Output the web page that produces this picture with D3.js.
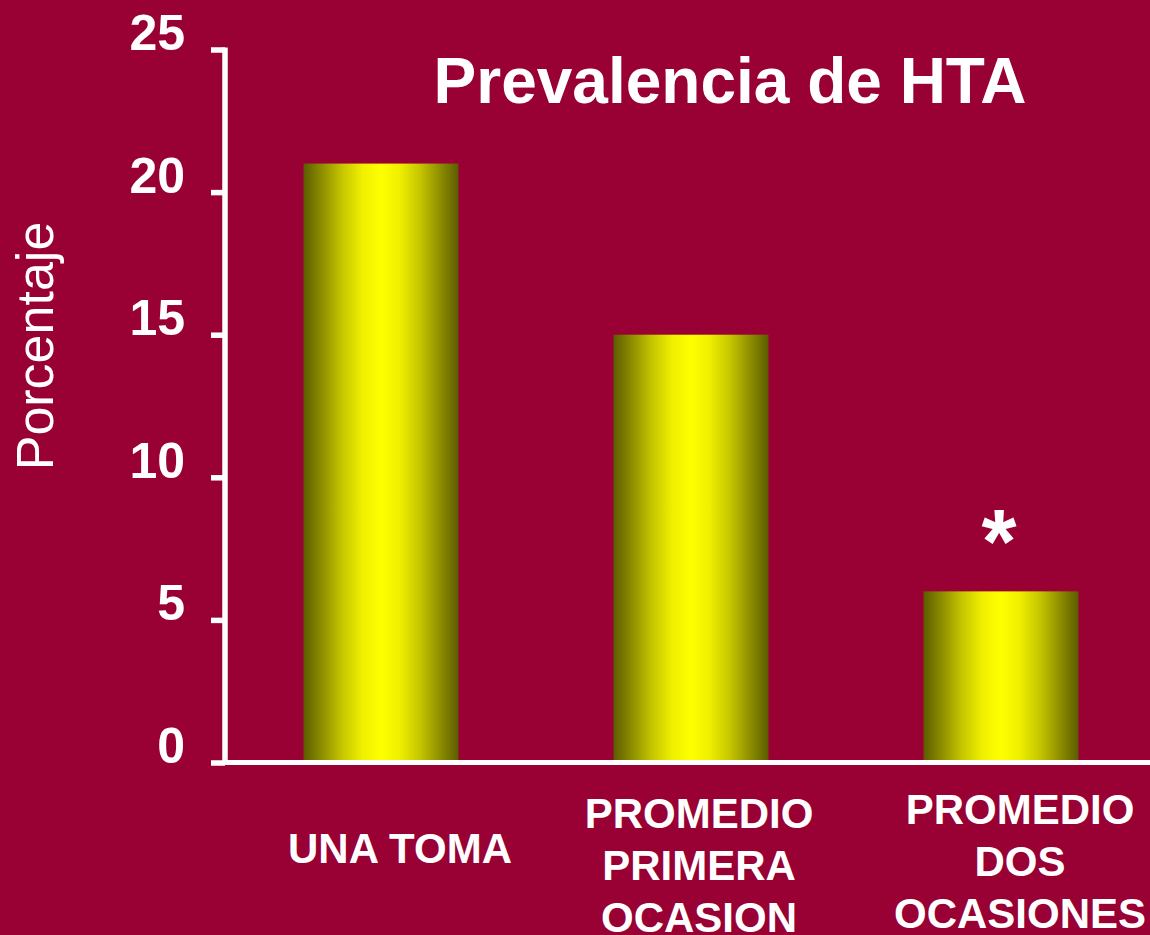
<!DOCTYPE html>
<html><head><meta charset="utf-8">
<script src="https://cdn.jsdelivr.net/npm/d3@7"></script>
<style>html,body{margin:0;padding:0;background:#990033;}svg{display:block;}</style>
</head><body>
<script>
const categories = ["UNA TOMA", "PROMEDIO PRIMERA OCASION", "PROMEDIO DOS OCASIONES"];
const categoryLines = [["UNA TOMA"], ["PROMEDIO", "PRIMERA", "OCASION"], ["PROMEDIO", "DOS", "OCASIONES"]];
const values = [21, 15, 6];
const marks = ["", "", "*"];
const yTicks = [0, 5, 10, 15, 20, 25];
const title = "Prevalencia de HTA";
const yTitle = "Porcentaje";

const W = 1150, H = 935;
const FONT = "Liberation Sans, Arial, sans-serif";
const svg = d3.select("body").append("svg").attr("width", W).attr("height", H);
svg.append("rect").attr("width", W).attr("height", H).attr("fill", "#990033");

const defs = svg.append("defs");
const grad = defs.append("linearGradient").attr("id", "barGrad")
  .attr("x1", "0%").attr("x2", "100%").attr("y1", "0%").attr("y2", "0%");
[[0, "#5c5c00"], [0.12, "#8e8e00"], [0.25, "#c6c600"], [0.38, "#efef00"], [0.5, "#ffff00"],
 [0.62, "#efef00"], [0.75, "#c6c600"], [0.88, "#8e8e00"], [1, "#5c5c00"]]
  .forEach(([o, c]) => grad.append("stop").attr("offset", o).attr("stop-color", c));

const y = d3.scaleLinear().domain([0, 25]).range([762.5, 49.5]);
const x = d3.scaleBand().domain(categories).range([226, 1156]).paddingInner(0.5).paddingOuter(0.25);

// bars
svg.selectAll("rect.bar").data(categories).join("rect")
  .attr("class", "bar")
  .attr("x", d => x(d))
  .attr("width", x.bandwidth())
  .attr("y", (d, i) => y(values[i]))
  .attr("height", (d, i) => y(0) - y(values[i]))
  .attr("fill", "url(#barGrad)");

// y axis
const yAxis = d3.axisLeft(y).tickValues(yTicks).tickSize(14).tickPadding(0).tickFormat(d3.format("d"));
const gy = svg.append("g").attr("transform", "translate(225,0)").call(yAxis);
gy.select(".domain").attr("stroke", "#fff").attr("stroke-width", 5.5).attr("fill", "none")
  .attr("d", `M0,${y(25) - 2}V${y(0) + 2.5}`);
gy.selectAll(".tick line").attr("stroke", "#fff").attr("stroke-width", 5.5);
gy.selectAll(".tick text")
  .attr("fill", "#fff")
  .attr("font-family", FONT)
  .attr("font-weight", "bold")
  .attr("font-size", 50)
  .attr("x", -40)
  .attr("dy", "0")
  .attr("y", 0);

// x axis line
svg.append("line").attr("x1", 223).attr("x2", W).attr("y1", y(0)).attr("y2", y(0))
  .attr("stroke", "#fff").attr("stroke-width", 5);

// category labels
const labelDx = [19, 8, 19];
const lineH = 52;
categories.forEach((c, i) => {
  const lines = categoryLines[i];
  const cx = x(c) + x.bandwidth() / 2 + labelDx[i];
  const firstY = lines.length === 1 ? 863 : (i === 1 ? 828 : 824);
  const t = svg.append("text")
    .attr("text-anchor", "middle")
    .attr("fill", "#fff")
    .attr("font-family", FONT)
    .attr("font-weight", "bold")
    .attr("font-size", 42);
  lines.forEach((l, j) => {
    t.append("tspan").attr("x", cx).attr("y", firstY + j * lineH).text(l);
  });
});

// significance marks
svg.selectAll("text.mark").data(categories).join("text")
  .attr("class", "mark")
  .attr("x", d => x(d) + x.bandwidth() / 2 - 2)
  .attr("y", (d, i) => y(values[i]) - 18)
  .attr("text-anchor", "middle")
  .attr("fill", "#fff")
  .attr("font-family", FONT)
  .attr("font-weight", "bold")
  .attr("font-size", 90)
  .text((d, i) => marks[i]);

// title
svg.append("text").attr("x", 730).attr("y", 103).attr("text-anchor", "middle")
  .attr("fill", "#fff").attr("font-family", FONT)
  .attr("font-weight", "bold").attr("font-size", 64).text(title);

// y title
svg.append("text").attr("transform", "translate(53,346) rotate(-90)").attr("text-anchor", "middle")
  .attr("fill", "#fff").attr("font-family", FONT)
  .attr("font-size", 52).text(yTitle);
</script>
</body></html>
